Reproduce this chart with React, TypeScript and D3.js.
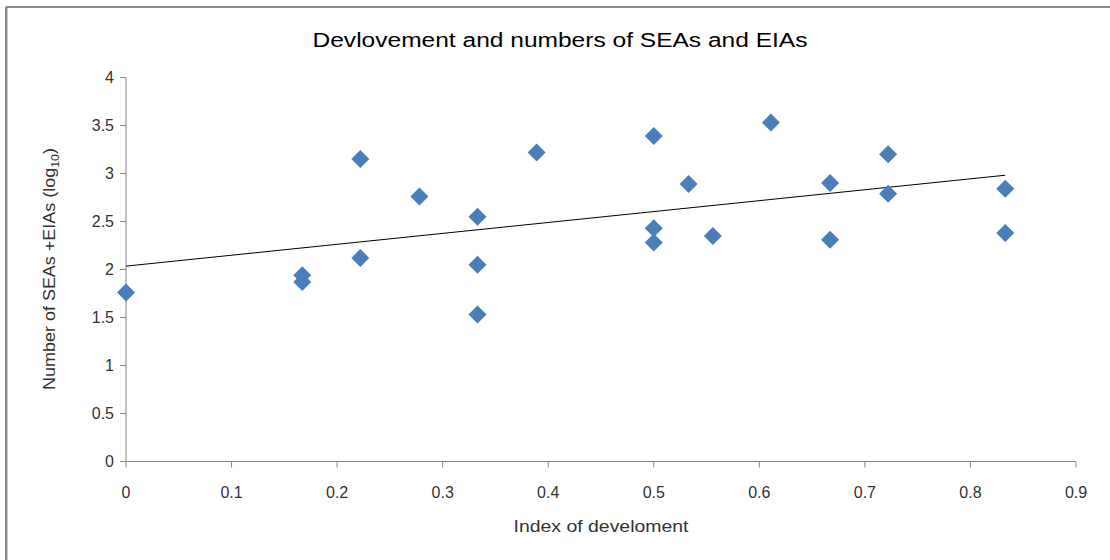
import React from "react";
import * as d3 from "d3";

const devIndex = [0, 0.167, 0.167, 0.222, 0.222, 0.278, 0.333, 0.333, 0.333, 0.389, 0.5, 0.5, 0.5, 0.533, 0.556, 0.611, 0.667, 0.667, 0.722, 0.722, 0.833, 0.833];
const logCount = [1.76, 1.94, 1.87, 3.15, 2.12, 2.76, 2.55, 2.05, 1.53, 3.22, 3.39, 2.43, 2.28, 2.89, 2.35, 3.53, 2.9, 2.31, 3.2, 2.79, 2.84, 2.38];
const xTicks = [0, 0.1, 0.2, 0.3, 0.4, 0.5, 0.6, 0.7, 0.8, 0.9];
const yTicks = [0, 0.5, 1, 1.5, 2, 2.5, 3, 3.5, 4];
const title = "Devlovement and numbers of SEAs and EIAs";
const xTitle = "Index of develoment";

const W = 1110;
const H = 560;
const FONT = "'Liberation Sans', Arial, sans-serif";

export default function App() {
  const x = d3.scaleLinear().domain([0, 0.9]).range([126, 1076]);
  const y = d3.scaleLinear().domain([0, 4]).range([461.5, 77.5]);

  const mx = d3.mean(devIndex)!;
  const my = d3.mean(logCount)!;
  let sxy = 0, sxx = 0;
  devIndex.forEach((v, i) => {
    sxy += (v - mx) * (logCount[i] - my);
    sxx += (v - mx) * (v - mx);
  });
  const slope = sxy / sxx;
  const intercept = my - slope * mx;
  const [x0, x1] = d3.extent(devIndex) as [number, number];
  const trend = d3.line<number>().x((d) => x(d)).y((d) => y(intercept + slope * d))([x0, x1]);

  const r = 9;
  const diamond = `M0,${-r}L${r},0L0,${r}L${-r},0Z`;

  return (
    <svg width={W} height={H} style={{ position: "absolute", left: 0, top: 0, background: "#fff" }} fontFamily={FONT}>
      <rect x={0} y={0} width={W} height={H} fill="#fff" />
      {/* frame */}
      <line x1={6} y1={7} x2={W} y2={7} stroke="#8a8a8a" strokeWidth={2} />
      <line x1={6} y1={7} x2={6} y2={H} stroke="#8a8a8a" strokeWidth={2} />
      <line x1={7.5} y1={8} x2={7.5} y2={H} stroke="#c8c8c8" strokeWidth={1} />

      <text x={560} y={47} textAnchor="middle" fontSize={20} fill="#000" textLength={495} lengthAdjust="spacingAndGlyphs">
        {title}
      </text>

      {/* axes */}
      <line x1={x(0)} y1={y(0)} x2={x(0.9)} y2={y(0)} stroke="#868686" strokeWidth={1} />
      <line x1={x(0)} y1={y(0)} x2={x(0)} y2={y(4)} stroke="#868686" strokeWidth={1} />
      {yTicks.map((t) => (
        <g key={"y" + t}>
          <line x1={x(0) - 6} x2={x(0)} y1={y(t)} y2={y(t)} stroke="#868686" />
          <text x={x(0) - 12} y={y(t) + 5.5} textAnchor="end" fontSize={16} fill="#333">
            {String(t)}
          </text>
        </g>
      ))}
      {xTicks.map((t) => (
        <g key={"x" + t}>
          <line x1={x(t)} x2={x(t)} y1={y(0)} y2={y(0) + 6} stroke="#868686" />
          <text x={x(t)} y={y(0) + 36} textAnchor="middle" fontSize={16} fill="#333">
            {String(t)}
          </text>
        </g>
      ))}

      <text x={601} y={532} textAnchor="middle" fontSize={16} fill="#333" textLength={175} lengthAdjust="spacingAndGlyphs">
        {xTitle}
      </text>
      <text transform="translate(55,269) rotate(-90)" textAnchor="middle" fontSize={16} fill="#333" textLength={242} lengthAdjust="spacingAndGlyphs">
        Number of SEAs +EIAs (log<tspan fontSize={11} dy={4}>10</tspan><tspan dy={-4}>)</tspan>
      </text>

      {/* trendline */}
      <path d={trend ?? ""} fill="none" stroke="#000" strokeWidth={1} />

      {/* points */}
      {devIndex.map((v, i) => (
        <path key={i} d={diamond} transform={`translate(${x(v)},${y(logCount[i])})`} fill="#4a7ebb" />
      ))}
    </svg>
  );
}
